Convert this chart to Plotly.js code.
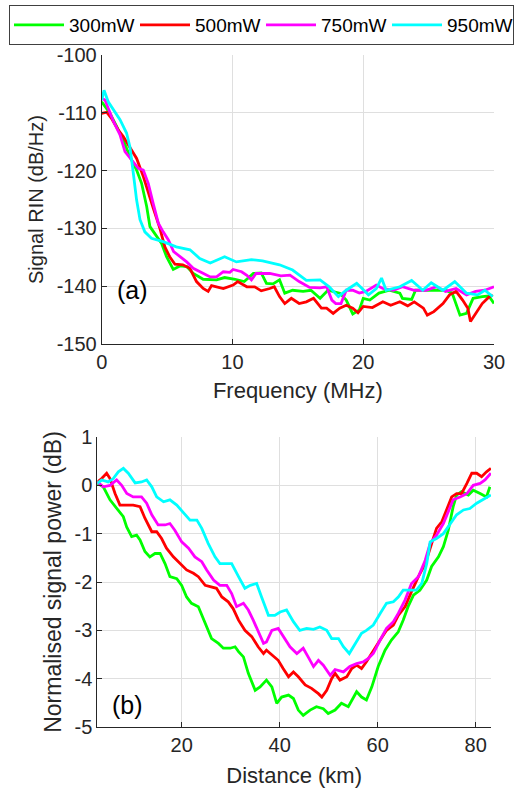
<!DOCTYPE html>
<html><head><meta charset="utf-8">
<script src="https://cdn.plot.ly/plotly-3.0.1.min.js"></script>
<style>html,body{margin:0;padding:0;background:#fff}#chart{width:517px;height:791px}</style>
</head><body><div id="chart"></div>
<script>
// ---- Panel (a): Signal RIN vs frequency ----
const f300 = [0,0.64,1.15,1.65,2.16,2.67,3.05,3.44,3.69,4.07,4.58,4.96,5.47,5.98,6.5,7.0,7.76,8.78,9.4,10.2,10.9,11.6,12.2,12.6,13.1,13.6,14.0,14.6,15.4,16.0,16.7,17.3,18.2,18.7,19.2,19.7,20.0,20.5,21.2,22.0,22.8,23.0,23.7,24.0,25.1,26.3,26.8,27.4,27.9,28.4,29.1,29.6,30.0];
const rin300 = [-108.1,-110.1,-112.4,-114.7,-117.6,-119.9,-122.2,-126.2,-129.7,-130.9,-132.6,-134.9,-137.1,-136.5,-136.6,-137.8,-138.8,-138.9,-138.5,-138.8,-139.2,-137.8,-137.7,-139.5,-139.6,-138.9,-141.2,-140.7,-140.9,-140.7,-142.1,-140.7,-141.2,-142.4,-144.8,-144.1,-142.1,-142.4,-141.2,-140.7,-141.2,-142.1,-142.3,-140.7,-140.7,-140.7,-141.2,-145.0,-144.7,-142.1,-141.8,-141.7,-143.0];
const f500 = [0,0.38,0.76,1.27,1.65,2.16,2.67,3.18,3.56,3.94,4.45,4.83,5.2,5.6,6.2,6.74,7.25,7.76,8.14,8.4,9.3,10.05,10.4,11.1,11.7,12.2,12.85,13.2,13.6,14.0,14.5,15.1,15.65,16.2,16.8,17.2,17.7,18.2,18.7,19.2,19.6,20.0,20.7,21.5,22.1,22.8,23.4,23.9,24.6,24.9,25.4,26.1,26.6,27.1,27.6,28.0,28.2,28.6,29.1,29.6,29.9];
const rin500 = [-110.1,-109.9,-111.0,-113.0,-114.1,-115.9,-117.9,-121.0,-123.9,-126.5,-130.0,-133.2,-134.9,-136.2,-136.3,-136.9,-139.2,-140.4,-140.9,-139.9,-140.4,-139.8,-139.2,-140.1,-140.1,-140.8,-140.4,-140.1,-141.8,-143.0,-142.1,-143.0,-142.7,-142.1,-143.8,-143.8,-144.7,-143.8,-143.3,-143.8,-144.6,-143.5,-143.7,-142.7,-143.3,-142.7,-143.4,-142.7,-143.8,-145.0,-144.4,-143.0,-141.5,-140.9,-142.4,-143.8,-146.1,-144.7,-143.0,-141.9,-141.5];
const f750 = [0,0.25,0.9,1.4,1.78,2.3,2.8,3.18,3.56,3.94,4.33,4.7,5.1,5.5,6.0,6.5,7.0,7.76,8.3,8.78,9.3,9.8,10.05,10.7,11.1,11.45,11.8,12.85,13.7,14.4,15.1,15.9,16.7,17.2,17.6,17.9,18.3,18.7,19.2,19.7,20.2,21.0,21.5,22.3,23.0,23.9,24.8,25.6,26.3,27.1,27.9,28.6,29.3,30.0];
const rin750 = [-107.5,-107.8,-111.5,-113.8,-116.7,-118.2,-119.6,-119.9,-122.2,-125.7,-129.1,-130.6,-132.0,-134.0,-134.9,-135.8,-136.9,-137.8,-138.4,-138.4,-137.5,-137.6,-137.1,-137.5,-138.1,-138.9,-137.8,-137.8,-138.2,-138.1,-139.2,-140.2,-140.3,-140.1,-142.4,-143.0,-143.0,-140.7,-140.7,-141.2,-140.9,-139.8,-140.4,-140.7,-140.1,-140.7,-140.7,-140.1,-140.9,-140.4,-141.5,-140.9,-140.7,-140.1];
const f950 = [0,0.18,0.5,1.4,1.9,2.16,2.42,2.67,2.93,3.3,3.8,4.7,5.7,6.75,7.5,8.3,9.4,10.3,11.45,12.3,13.6,14.6,15.65,16.7,17.4,18.1,18.7,19.5,20.4,21.0,21.4,21.75,22.8,23.7,24.55,25.2,26.1,27.0,27.9,28.75,29.3,29.9];
const rin950 = [-107.8,-106.1,-108.1,-111.2,-113.5,-115.9,-120.5,-125.1,-128.5,-130.6,-131.7,-132.3,-133.2,-133.7,-135.2,-136.0,-134.9,-135.8,-135.4,-135.6,-136.3,-137.2,-139.0,-138.9,-140.1,-141.8,-140.7,-139.5,-141.5,-140.4,-138.6,-140.7,-140.1,-139.0,-140.7,-139.4,-140.7,-139.2,-141.2,-141.5,-140.7,-141.8];

// ---- Panel (b): normalised signal power vs distance ----
const d300 = [2.78,4.0,5.37,6.73,8.09,8.77,9.79,10.8,11.5,12.5,13.5,14.55,15.6,16.6,17.6,19.0,20.0,21.0,22.0,23.4,24.7,26.1,27.5,28.5,29.9,30.9,31.6,32.6,33.6,35.0,36.0,37.3,38.4,39.4,40.4,41.8,42.8,43.8,44.8,46.2,47.5,48.9,49.9,51.3,52.6,54.0,55.7,56.7,57.7,58.8,60.1,61.5,62.8,64.2,65.2,66.2,67.3,68.6,70.0,71.0,72.4,73.4,74.4,75.4,76.1,77.1,78.5,79.5,80.9,82.2,82.9];
const p300 = [0.04,-0.03,-0.30,-0.48,-0.65,-0.86,-1.06,-1.03,-1.13,-1.37,-1.48,-1.41,-1.41,-1.62,-1.89,-1.93,-2.07,-2.31,-2.44,-2.51,-2.82,-3.17,-3.27,-3.37,-3.37,-3.34,-3.44,-3.55,-3.89,-4.24,-4.17,-4.03,-4.17,-4.51,-4.38,-4.34,-4.41,-4.65,-4.76,-4.65,-4.58,-4.62,-4.72,-4.65,-4.51,-4.58,-4.27,-4.38,-4.44,-4.17,-3.75,-3.41,-3.2,-3.03,-2.79,-2.51,-2.27,-2.17,-1.96,-1.68,-1.48,-1.27,-0.93,-0.44,-0.2,-0.13,-0.2,-0.1,-0.17,-0.24,-0.03];
const d500 = [2.78,3.67,4.69,5.37,6.4,7.4,8.8,10.1,11.5,12.5,13.9,14.9,15.9,16.9,18.3,19.7,21.0,22.4,23.4,24.8,25.8,27.1,28.2,29.5,30.5,31.6,32.9,34.3,35.6,36.7,37.3,38.4,39.7,40.7,41.8,42.8,43.8,45.2,46.5,47.9,48.6,49.6,50.6,51.3,52.3,53.7,54.7,55.7,56.7,57.7,59.1,60.5,61.8,63.2,64.2,65.6,66.9,68.3,69.7,71.0,72.0,73.1,74.1,75.1,76.1,77.1,78.2,79.2,80.2,81.2,82.2,83.1];
const p500 = [0.07,0.14,0.25,0.14,-0.17,-0.41,-0.41,-0.41,-0.44,-0.68,-0.96,-0.96,-1.1,-1.3,-1.48,-1.62,-1.75,-1.82,-1.89,-2.07,-2.1,-2.13,-2.31,-2.41,-2.55,-2.79,-3.0,-3.13,-3.34,-3.48,-3.41,-3.51,-3.62,-3.79,-3.96,-3.86,-3.96,-4.13,-4.2,-4.31,-4.38,-4.24,-4.0,-3.89,-4.03,-3.96,-3.79,-3.72,-3.79,-3.65,-3.41,-3.2,-3.0,-2.89,-2.69,-2.51,-2.2,-1.89,-1.62,-1.2,-0.89,-0.75,-0.51,-0.24,-0.17,-0.17,0.04,0.25,0.25,0.18,0.28,0.35];
const d750 = [2.78,4.0,5.37,6.73,7.75,8.8,10.1,11.8,12.85,13.9,15.2,16.6,17.6,18.6,20.0,21.4,22.7,24.1,25.1,26.5,27.8,29.2,30.2,31.2,32.6,33.6,34.6,35.6,36.7,37.3,38.4,39.7,40.7,42.1,43.5,44.8,45.8,46.9,47.9,48.9,50.3,51.3,53.0,54.3,55.7,57.1,58.1,59.1,60.5,61.8,63.2,64.2,65.6,66.9,68.3,69.7,70.7,72.0,73.4,74.4,75.4,76.8,78.2,79.5,80.9,81.9,83.1];
const p750 = [0.07,-0.03,0.0,0.11,0.0,-0.17,-0.24,-0.24,-0.37,-0.61,-0.82,-0.82,-0.79,-0.93,-1.17,-1.3,-1.48,-1.58,-1.75,-1.96,-2.07,-2.07,-2.24,-2.51,-2.44,-2.58,-2.79,-3.03,-3.27,-3.24,-3.0,-2.96,-3.13,-3.34,-3.48,-3.37,-3.55,-3.75,-3.62,-3.72,-3.93,-3.81,-3.86,-3.75,-3.69,-3.65,-3.58,-3.48,-3.2,-2.96,-2.82,-2.65,-2.37,-2.03,-1.89,-1.55,-1.2,-1.03,-0.79,-0.55,-0.3,-0.24,-0.17,0.0,0.04,0.11,0.25];
const d950 = [2.78,3.67,5.0,6.05,7.07,8.1,9.1,10.5,11.8,12.85,13.9,14.9,16.3,17.6,19.0,20.3,21.7,23.1,24.1,25.4,26.8,27.8,29.2,30.2,31.6,32.9,34.0,35.3,36.3,37.7,39.0,40.1,41.4,42.8,44.1,45.5,46.9,48.2,49.6,50.6,52.0,53.0,54.2,55.4,56.7,57.7,59.1,60.5,61.8,63.2,64.2,65.2,66.6,67.9,69.0,70.0,70.7,72.0,73.4,74.8,76.1,77.5,78.8,80.2,81.6,83.1];
const p950 = [0.04,0.11,0.07,0.14,0.28,0.35,0.25,0.05,0.07,0.11,-0.03,-0.24,-0.34,-0.3,-0.41,-0.55,-0.72,-0.72,-0.89,-1.2,-1.48,-1.62,-1.62,-1.62,-1.89,-2.13,-2.07,-2.03,-2.31,-2.69,-2.69,-2.62,-2.58,-2.82,-3.0,-2.96,-2.98,-2.93,-3.0,-3.17,-3.17,-3.34,-3.48,-3.27,-3.06,-3.0,-2.89,-2.65,-2.44,-2.41,-2.31,-2.17,-2.17,-2.17,-2.03,-1.62,-1.17,-1.1,-1.0,-0.79,-0.61,-0.51,-0.48,-0.37,-0.29,-0.2];

const seriesNames = ['300mW','500mW','750mW','950mW'];
const seriesColors = ['#00ff00','#ff0000','#ff00ff','#00ffff'];
const topX = [f300,f500,f750,f950];
const topY = [rin300,rin500,rin750,rin950];
const botX = [d300,d500,d750,d950];
const botY = [p300,p500,p750,p950];

const freqTicks = [0,10,20,30];
const rinTicks = [-150,-140,-130,-120,-110,-100];
const rinTickText = ['-150','-140','-130','-120','-110','-100'];
const distTicks = [20,40,60,80];
const powTicks = [-5,-4,-3,-2,-1,0,1];
const powTickText = ['-5','-4','-3','-2','-1','0','1'];

const traces = [];
seriesNames.forEach((n,i)=>{
  traces.push({x:topX[i],y:topY[i],type:'scatter',mode:'lines',name:n,legendgroup:n,
    line:{color:seriesColors[i],width:2.8},xaxis:'x',yaxis:'y'});
});
seriesNames.forEach((n,i)=>{
  traces.push({x:botX[i],y:botY[i],type:'scatter',mode:'lines',name:n,legendgroup:n,showlegend:false,
    line:{color:seriesColors[i],width:2.8},xaxis:'x2',yaxis:'y2'});
});

const FONT = 'Liberation Sans, Arial, sans-serif';
const TXT = '#262626';
const axBase = {showline:true,linecolor:TXT,linewidth:1,ticks:'inside',ticklen:5,tickcolor:TXT,
  showgrid:true,gridcolor:'#dfdfdf',gridwidth:1,zeroline:false,mirror:false,automargin:false,
  tickfont:{family:FONT,size:20,color:TXT}};

const W=517,H=791,ML=60,MR=10,MT=40,MB=50;
const pw=W-ML-MR, ph=H-MT-MB;
const dx=(a,b)=>[(a-ML)/pw,(b-ML)/pw];
const dy=(top,bot)=>[(H-MB-bot)/ph,(H-MB-top)/ph];

const layout = {
  width:W,height:H,margin:{l:ML,r:MR,t:MT,b:MB,autoexpand:false},
  paper_bgcolor:'#fff',plot_bgcolor:'#fff',
  font:{family:FONT,color:TXT},
  showlegend:true,
  legend:{orientation:'h',x:(9-ML)/pw,y:1+(MT-5)/ph,xanchor:'left',yanchor:'top',
    bordercolor:'#404040',borderwidth:1,bgcolor:'#fff',font:{family:FONT,size:19,color:'#000'},
    itemwidth:50,entrywidth:61,entrywidthmode:'pixels',tracegroupgap:0},
  xaxis:Object.assign({},axBase,{domain:dx(101.7,494),range:[0,30],tickvals:freqTicks,anchor:'y',
    title:{text:'Frequency (MHz)',font:{family:FONT,size:22,color:TXT},standoff:10}}),
  yaxis:Object.assign({},axBase,{domain:dy(55,344),range:[-150,-100],tickvals:rinTicks,ticktext:rinTickText,anchor:'x',
    title:{text:'Signal RIN (dB/Hz)',font:{family:FONT,size:20,color:TXT},standoff:7}}),
  xaxis2:Object.assign({},axBase,{domain:dx(97.3,491),range:[2.78,83.12],tickvals:distTicks,anchor:'y2',
    title:{text:'Distance (km)',font:{family:FONT,size:22,color:TXT},standoff:12}}),
  yaxis2:Object.assign({},axBase,{domain:dy(437,727),range:[-5,1],tickvals:powTicks,ticktext:powTickText,anchor:'x2',
    title:{text:'Normalised signal power (dB)',font:{family:FONT,size:23,color:TXT},standoff:6}}),
  annotations:[
    {text:'(a)',xref:'x domain',yref:'y domain',x:0.034,y:0.187,xanchor:'left',yanchor:'middle',showarrow:false,font:{family:FONT,size:25,color:'#000'}},
    {text:'(b)',xref:'x2 domain',yref:'y2 domain',x:0.032,y:0.076,xanchor:'left',yanchor:'middle',showarrow:false,font:{family:FONT,size:25,color:'#000'}}
  ]
};
Plotly.newPlot('chart',traces,layout,{staticPlot:true,displayModeBar:false});
</script></body></html>
